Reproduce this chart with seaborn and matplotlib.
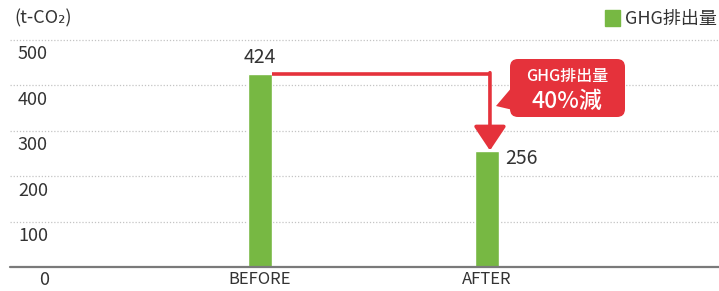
import matplotlib
matplotlib.use("Agg")
import matplotlib.pyplot as plt
from matplotlib.patches import FancyBboxPatch, Polygon, Patch
import seaborn as sns
import pandas as pd

categories = ["BEFORE", "AFTER"]
ghg = [424, 256]
yticks = [0, 100, 200, 300, 400, 500]
series_label = "GHG排出量"
callout_lines = ["GHG排出量", "40%減"]

green = "#77b843"
red = "#e5323b"
txt = "#333333"

sns.set_style("white")
plt.rcParams["font.family"] = ["Noto Sans CJK JP", "DejaVu Sans"]

df = pd.DataFrame({"cat": categories, "val": ghg})

fig = plt.figure(figsize=(7.19, 2.91), dpi=100)
ax = fig.add_axes([0, 0, 1, 1])

# pixel helpers (x center of BEFORE at 260px, 227px per category; 0 at y=267px, 0.455px per unit)
def px_x(p):
    return (p - 260) / 227.0

def px_y(p):
    return (267 - p) / 0.455

for v in yticks[1:]:
    ax.axhline(v, xmin=10 / 719, xmax=1, color="#c4c4c4", lw=0.9, ls=(0, (1, 1.5)), zorder=0)
ax.axhline(0, xmin=10 / 719, xmax=1, color="#7a7a7a", lw=1.6, zorder=3)

sns.barplot(data=df, x="cat", y="val", color=green, width=0.106, saturation=1, ax=ax, zorder=2)
ax.set_xlim(px_x(0), px_x(719))
ax.set_ylim(px_y(291), px_y(0))

for s in ax.spines.values():
    s.set_visible(False)
ax.set_xlabel("")
ax.set_ylabel("")
ax.set_yticks([])
ax.set_xticks([0, 1])
ax.set_xticklabels([])
ax.tick_params(length=0)

for i, c in enumerate(categories):
    ax.text(i, px_y(280), c, ha="center", va="center", fontsize=12, color=txt)

for v in yticks:
    if v == 0:
        ax.text(px_x(44), px_y(280), str(v), ha="center", va="center", fontsize=13, color=txt)
    else:
        ax.text(px_x(18), v - 13, str(v), ha="left", va="top", fontsize=13, color=txt)

ax.text(px_x(14), px_y(18), "(t-CO₂)", ha="left", va="center", fontsize=13, color=txt)

# value labels
ax.text(0, ghg[0] + 14, str(ghg[0]), ha="center", va="bottom", fontsize=14, color=txt)
ax.text(1 + 0.08, ghg[1] - 17, str(ghg[1]), ha="left", va="center", fontsize=14, color=txt)

# reduction arrow
xc = 1.013
ax.plot([0.053, xc], [ghg[0], ghg[0]], color=red, lw=2.6, solid_capstyle="butt", zorder=4)
ax.annotate("", xy=(xc, ghg[1]), xytext=(xc, ghg[0] + 3),
            arrowprops=dict(arrowstyle="-|>,head_length=0.75,head_width=0.5", color=red,
                            lw=2.6, shrinkA=0, shrinkB=0, mutation_scale=20), zorder=4)

# callout
box = FancyBboxPatch((px_x(510), px_y(117)), px_x(625) - px_x(510), px_y(59) - px_y(117),
                     boxstyle="round,pad=0,rounding_size=0.035", mutation_aspect=500,
                     fc=red, ec="none", zorder=5)
ax.add_patch(box)
tail = Polygon([(px_x(513), px_y(86)), (px_x(496), px_y(106)), (px_x(513), px_y(110))],
               closed=True, fc=red, ec="none", zorder=5)
ax.add_patch(tail)
ax.text(px_x(567), px_y(76), callout_lines[0], ha="center", va="center", fontsize=11.5,
        color="white", fontweight="medium", zorder=6)
ax.text(px_x(567), px_y(101), callout_lines[1], ha="center", va="center", fontsize=16.5,
        color="white", fontweight="medium", zorder=6)

ax.legend(handles=[Patch(color=green, label=series_label)], loc="upper right",
          bbox_to_anchor=(1.02, 1.02), frameon=False, fontsize=13, handlelength=0.8,
          handleheight=0.95, handletextpad=0.3, labelcolor=txt)

fig.savefig("out.png", dpi=100)
